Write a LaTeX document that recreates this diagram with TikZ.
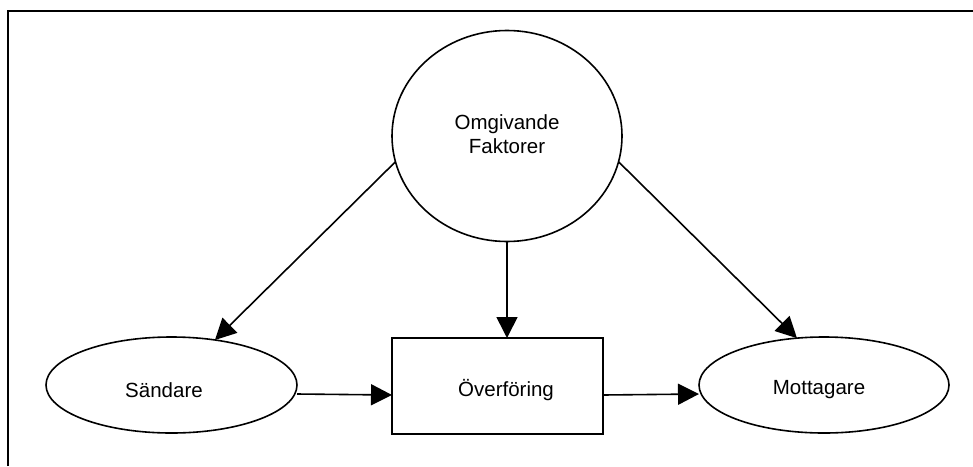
\documentclass[tikz,border=0pt]{standalone}
\usepackage{fontspec}
\setmainfont{Liberation Sans}
\usetikzlibrary{shapes.geometric,arrows.meta}
\begin{document}
\begin{tikzpicture}[x=1pt,y=-1pt,
  shapeline/.style={draw=black,line width=1.6pt,inner sep=0pt,outer sep=0pt},
  oval/.style={shapeline,ellipse},
  boxed/.style={shapeline,rectangle},
  lbl/.style={font=\fontsize{20.5}{24.5}\selectfont,align=center,inner sep=0pt},
  arr/.style={line width=1.6pt,-{Triangle[length=21pt,width=21pt]}}]
  \useasboundingbox (0,0) rectangle (973,466);
  % open frame: top and left edges only
  \draw[line width=2pt] (8,466) -- (8,11) -- (973,11);
  % shapes
  \node[oval,minimum width=230pt,minimum height=211pt] (o) at (507,136) {};
  \node[oval,minimum width=251pt,minimum height=96pt] (s) at (171.5,385) {};
  \node[oval,minimum width=250pt,minimum height=96pt] (m) at (824,385) {};
  \node[boxed,minimum width=211pt,minimum height=96pt] (b) at (497.5,386) {};
  % labels
  \node[lbl] (ot) at (507,134) {Omgivande\\Faktorer};
  \node[lbl] (st) at (164,390) {Sändare};
  \node[lbl] (bt) at (506,390) {Överföring};
  \node[lbl] (mt) at (819,390) {Mottagare};
  % connectors
  \draw[arr] (o.193) -- (s.46);
  \draw[arr] (o.south) -- (o.south |- b.north);
  \draw[arr] (o.347) -- (m.120);
  \draw[arr] ([yshift=-9pt]s.east) -- ([yshift=-9pt]b.west);
  \draw[arr] ([yshift=-9pt]b.east) -- ([yshift=-9pt]m.west);
\end{tikzpicture}
\end{document}
